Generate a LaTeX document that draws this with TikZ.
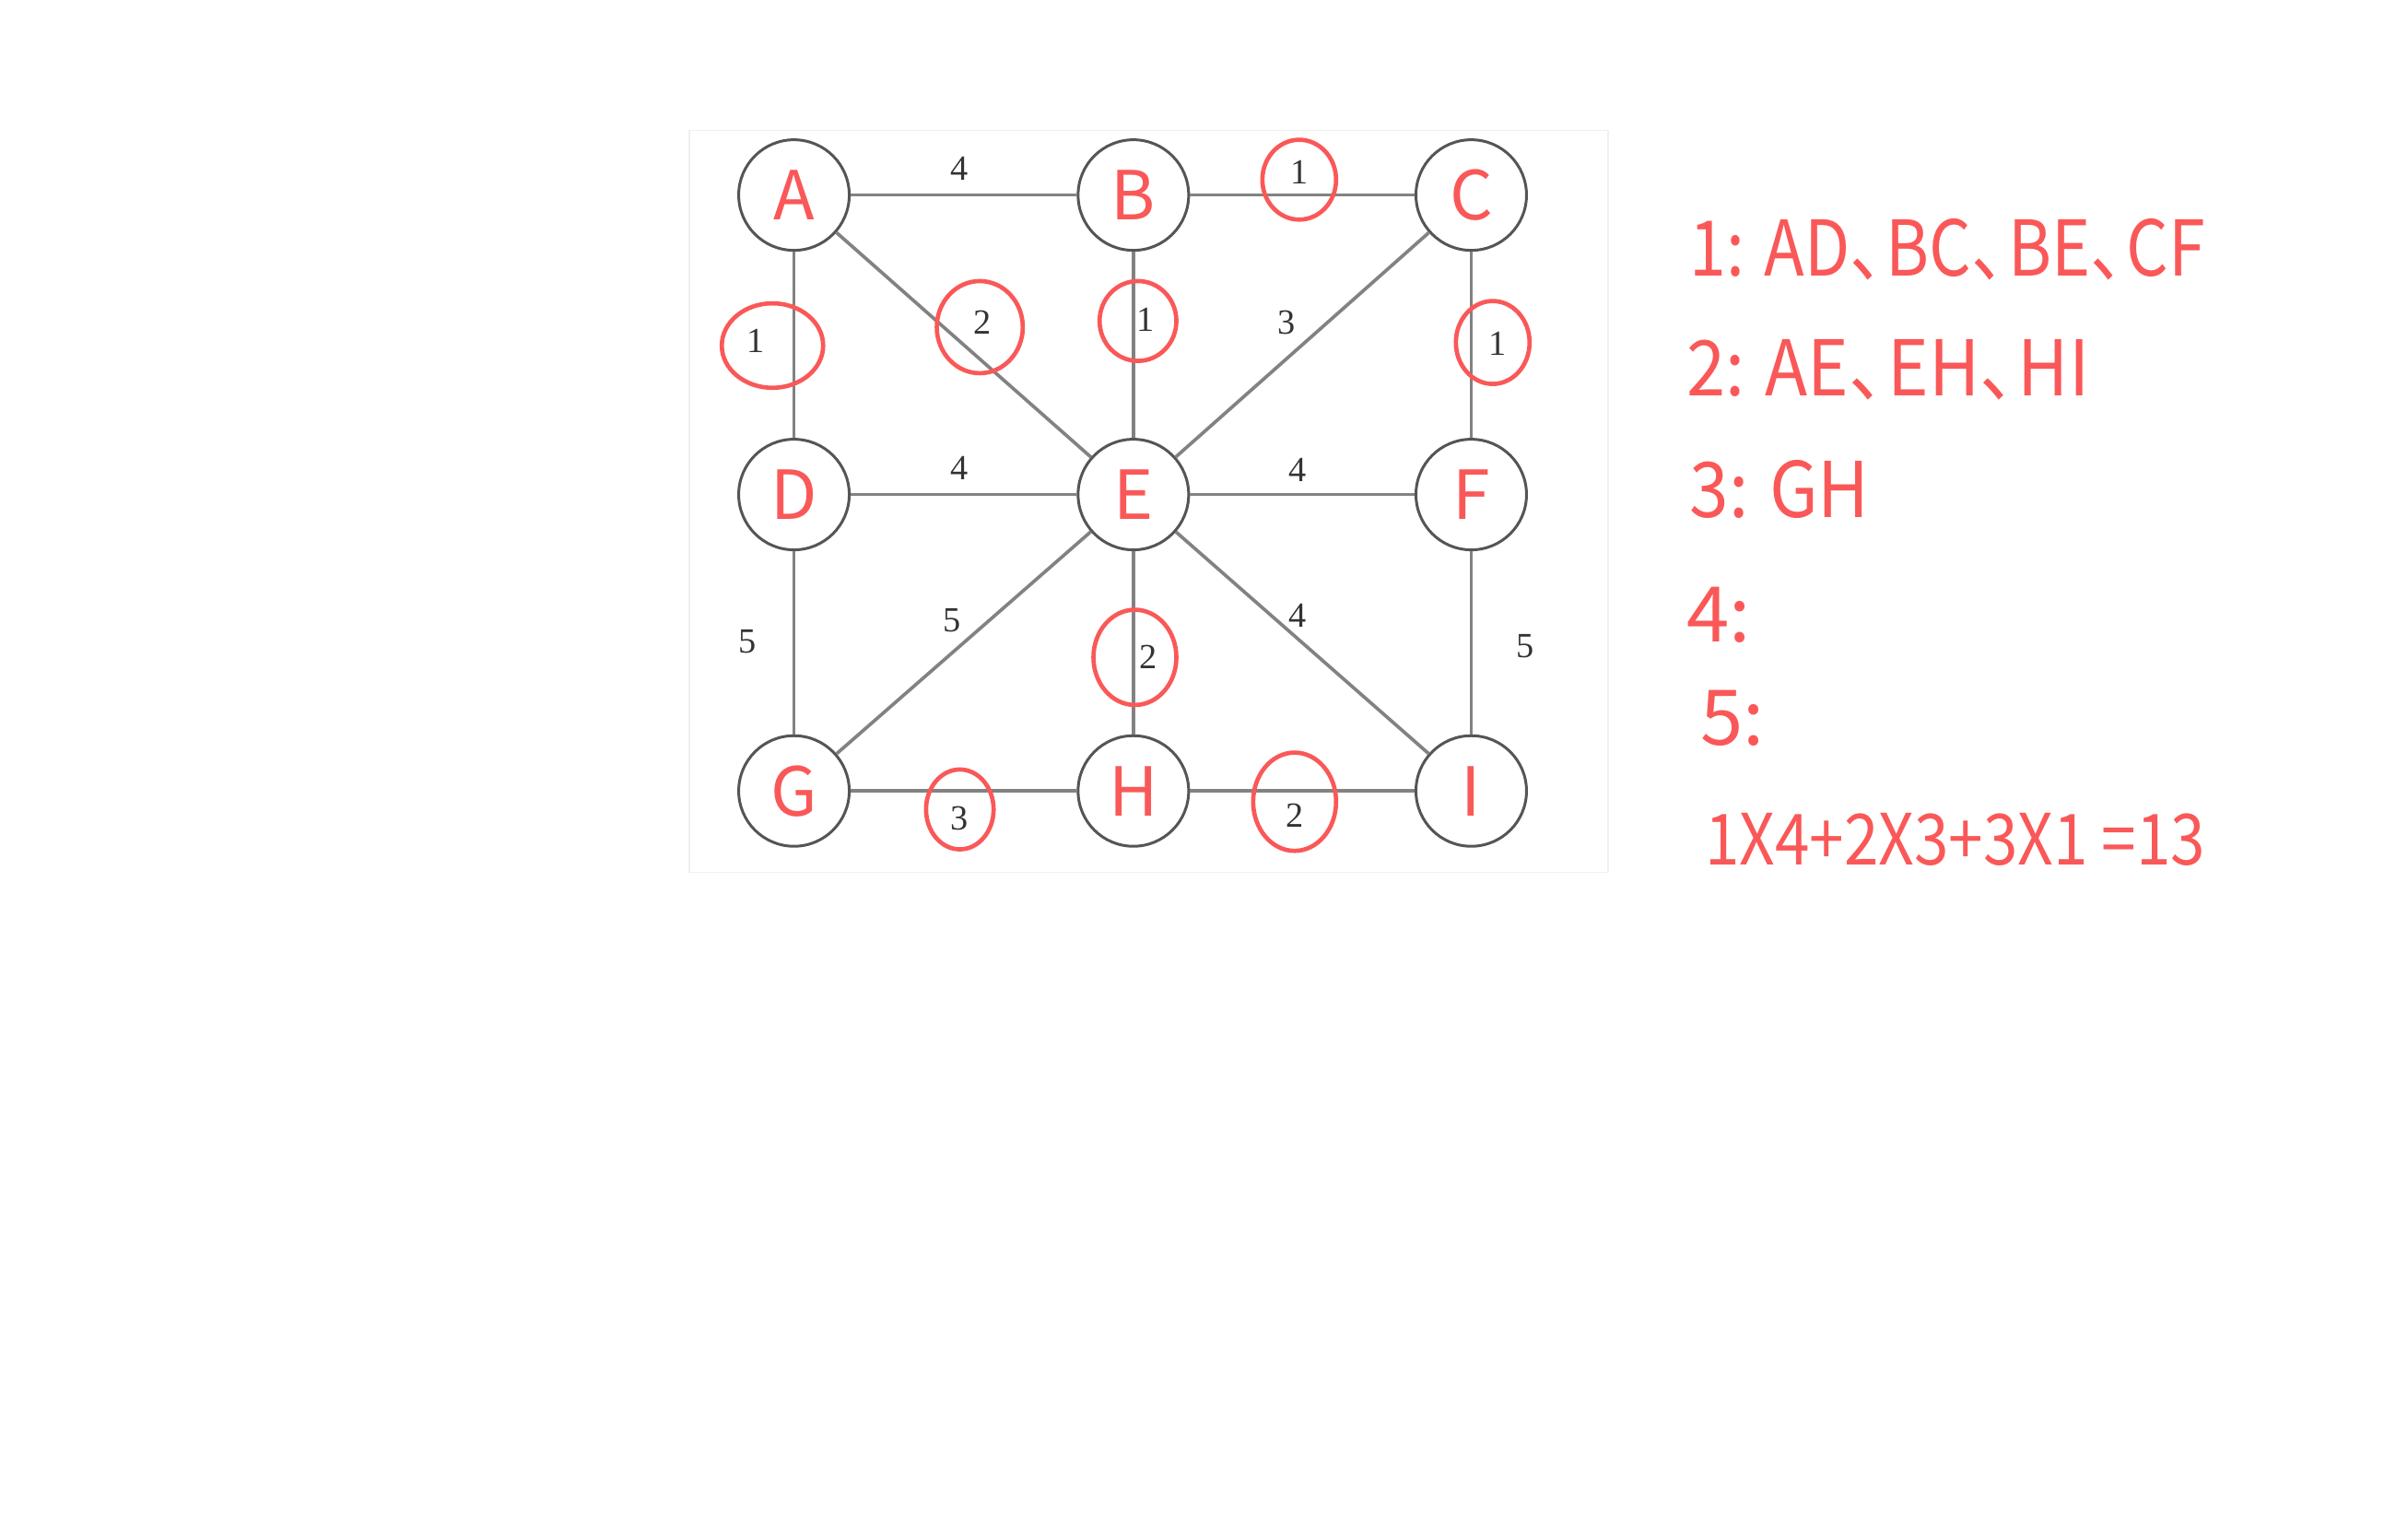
\documentclass[tikz,border=0pt]{standalone}
\usepackage{fontspec}
\usepackage{graphicx}
\usepackage{tikz}
\usetikzlibrary{shapes,positioning}
\setmainfont{Liberation Serif}
\newfontfamily\handfont{Noto Sans CJK SC}
\definecolor{penred}{RGB}{250,88,88}
\definecolor{edgegray}{RGB}{130,130,130}
\definecolor{ringgray}{RGB}{85,85,85}
\newcommand{\dun}{、\kern-0.45em}
\newcommand{\squeeze}[2]{\scalebox{#1}[1]{#2}}

\begin{document}
\begin{tikzpicture}[x=1pt, y=-1pt,
    vertex/.style={circle, draw=ringgray, line width=1.8pt, minimum size=72pt, inner sep=0pt, font=\handfont\fontsize{44}{44}\selectfont, text=penred},
    edge/.style={draw=edgegray, line width=2.2pt},
    weight/.style={font=\fontsize{23}{23}\selectfont, text=black!80, inner sep=1pt},
    ring/.style={ellipse, draw=penred, line width=2.8pt, inner sep=0pt},
    note/.style={anchor=base west, inner sep=0pt, font=\handfont\fontsize{50}{50}\selectfont, text=penred}]
    \useasboundingbox (0,0) rectangle (1568,995);
    \draw[black!6, line width=1pt] (449,85) rectangle (1047,568);

    % vertices
    \node[vertex] (A) at (517,127) {A};
    \node[vertex] (B) at (738,127) {B};
    \node[vertex] (C) at (958,127) {C};
    \node[vertex] (D) at (517,322) {D};
    \node[vertex] (E) at (738,322) {E};
    \node[vertex] (F) at (958,322) {F};
    \node[vertex] (G) at (517,515) {G};
    \node[vertex] (H) at (738,515) {H};
    \node[vertex] (I) at (958,515) {I};

    % edges
    \draw[edge] (A) -- (B);
    \draw[edge] (B) -- (C);
    \draw[edge] (A) -- (D);
    \draw[edge] (A) -- (E);
    \draw[edge] (B) -- (E);
    \draw[edge] (C) -- (E);
    \draw[edge] (C) -- (F);
    \draw[edge] (D) -- (E);
    \draw[edge] (E) -- (F);
    \draw[edge] (D) -- (G);
    \draw[edge] (E) -- (G);
    \draw[edge] (E) -- (H);
    \draw[edge] (E) -- (I);
    \draw[edge] (F) -- (I);
    \draw[edge] (G) -- (H);
    \draw[edge] (H) -- (I);

    % weights
    \node[weight] (w-ab) at (625,110) {4};
    \node[weight] (w-bc) at (846,112) {1};
    \node[weight] (w-ad) at (492,222) {1};
    \node[weight] (w-ae) at (640,210) {2};
    \node[weight] (w-be) at (746,208) {1};
    \node[weight] (w-ce) at (838,210) {3};
    \node[weight] (w-cf) at (975,224) {1};
    \node[weight] (w-de) at (625,305) {4};
    \node[weight] (w-ef) at (845,306) {4};
    \node[weight] (w-dg) at (487,418) {5};
    \node[weight] (w-eg) at (620,404) {5};
    \node[weight] (w-eh) at (748,428) {2};
    \node[weight] (w-ei) at (845,401) {4};
    \node[weight] (w-fi) at (993,421) {5};
    \node[weight] (w-gh) at (625,533) {3};
    \node[weight] (w-hi) at (843,531) {2};

    % circled by hand
    \node[ring, minimum width=66pt, minimum height=55pt] (r-ad) at (503,225) {};
    \node[ring, minimum width=48pt, minimum height=52pt] (r-bc) at (846,117) {};
    \node[ring, minimum width=56pt, minimum height=60pt] (r-ae) at (638,213) {};
    \node[ring, minimum width=50pt, minimum height=52pt] (r-be) at (741,209) {};
    \node[ring, minimum width=48pt, minimum height=54pt] (r-cf) at (972,223) {};
    \node[ring, minimum width=54pt, minimum height=62pt] (r-eh) at (739,428) {};
    \node[ring, minimum width=44pt, minimum height=52pt] (r-gh) at (625,527) {};
    \node[ring, minimum width=54pt, minimum height=64pt] (r-hi) at (843,522) {};

    % notes
    \node[note] (n1) at (1100,180) {\squeeze{0.86}{1: AD\dun BC\dun BE\dun CF}};
    \node[note] (n2) at (1098,258) {\squeeze{0.91}{2: AE\dun EH\dun HI}};
    \node[note] (n3) at (1100,337) {\squeeze{0.92}{3: GH}};
    \node[note] (n4) at (1098,418) {4:};
    \node[note] (n5) at (1107,485) {5:};
    \node[note, font=\handfont\fontsize{46}{46}\selectfont] (n6) at (1110,563) {\squeeze{0.88}{1X4+2X3+3X1 =13}};
\end{tikzpicture}
\end{document}
